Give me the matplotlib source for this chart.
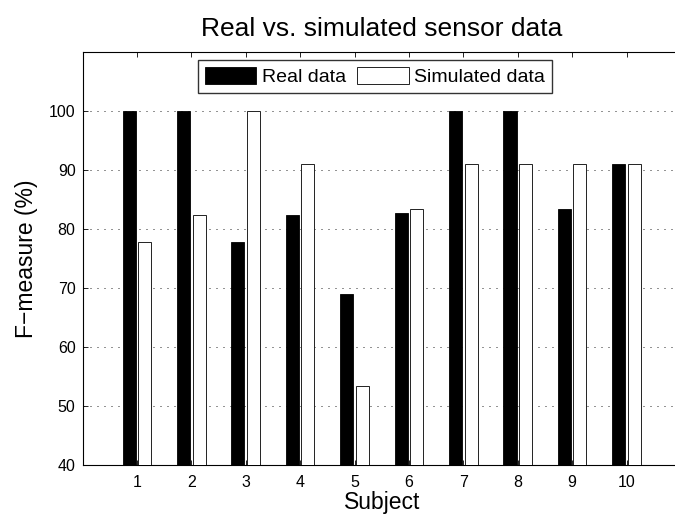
import numpy as np
import matplotlib
matplotlib.use("Agg")
import matplotlib.pyplot as plt

# F-measure per subject for real and simulated sensor data
subjects = [1, 2, 3, 4, 5, 6, 7, 8, 9, 10]
real_data = [100.0, 100.0, 77.78, 82.35, 69.0, 82.76, 100.0, 100.0, 83.33, 90.91]
simulated_data = [77.78, 82.35, 100.0, 90.91, 53.33, 83.33, 90.91, 90.91, 90.91, 90.91]
y_ticks = [40, 50, 60, 70, 80, 90, 100]

plt.rcParams['font.family'] = ['Liberation Sans', 'DejaVu Sans']

W, H = 675, 520
fig = plt.figure(figsize=(W / 100, H / 100), dpi=100)
left, right, bottom, top = 82.5, 681.0, 465.0, 51.7
ax = fig.add_axes([left / W, 1 - bottom / H, (right - left) / W, (bottom - top) / H])

x = np.array(subjects, dtype=float)
bar_w = 0.24
offset = 0.143
ax.bar(x - offset, real_data, width=bar_w, color='black', edgecolor='black',
       linewidth=0.6, label='Real data', zorder=3)
ax.bar(x + offset, simulated_data, width=bar_w, color='white', edgecolor='#222222',
       linewidth=0.7, label='Simulated data', zorder=3)

ax.set_xlim(0, 11)
ax.set_ylim(40, 110)
ax.set_xticks(subjects)
ax.set_xticklabels([str(s) for s in subjects])
ax.set_yticks(y_ticks)
ax.set_yticklabels([str(t) for t in y_ticks])

ax.set_axisbelow(True)
ax.yaxis.grid(True, color='black', linewidth=0.6, linestyle=(0, (1.2, 7.2)))
ax.xaxis.grid(False)

ax.tick_params(axis='both', direction='in', length=3.6, width=0.6,
               labelsize=11.5, top=True, right=True, pad=5)
ax.tick_params(axis='x', pad=7)
for sp in ax.spines.values():
    sp.set_linewidth(0.8)

ax.set_title('Real vs. simulated sensor data', fontsize=19, pad=11)
ax.set_xlabel('Subject', fontsize=16.5, labelpad=1)
ax.set_ylabel('F\u2212measure (%)', fontsize=16.5, labelpad=8)

leg = ax.legend(loc='upper left', bbox_to_anchor=(198 / W, 1 - 60 / H),
                bbox_transform=fig.transFigure, ncol=2, fontsize=14,
                frameon=True, fancybox=False, borderaxespad=0,
                handlelength=2.65, handleheight=0.95, handletextpad=0.3,
                columnspacing=0.55, borderpad=0.35)
leg.get_frame().set_edgecolor('black')
leg.get_frame().set_linewidth(1.0)

fig.savefig('out.png', dpi=100)
